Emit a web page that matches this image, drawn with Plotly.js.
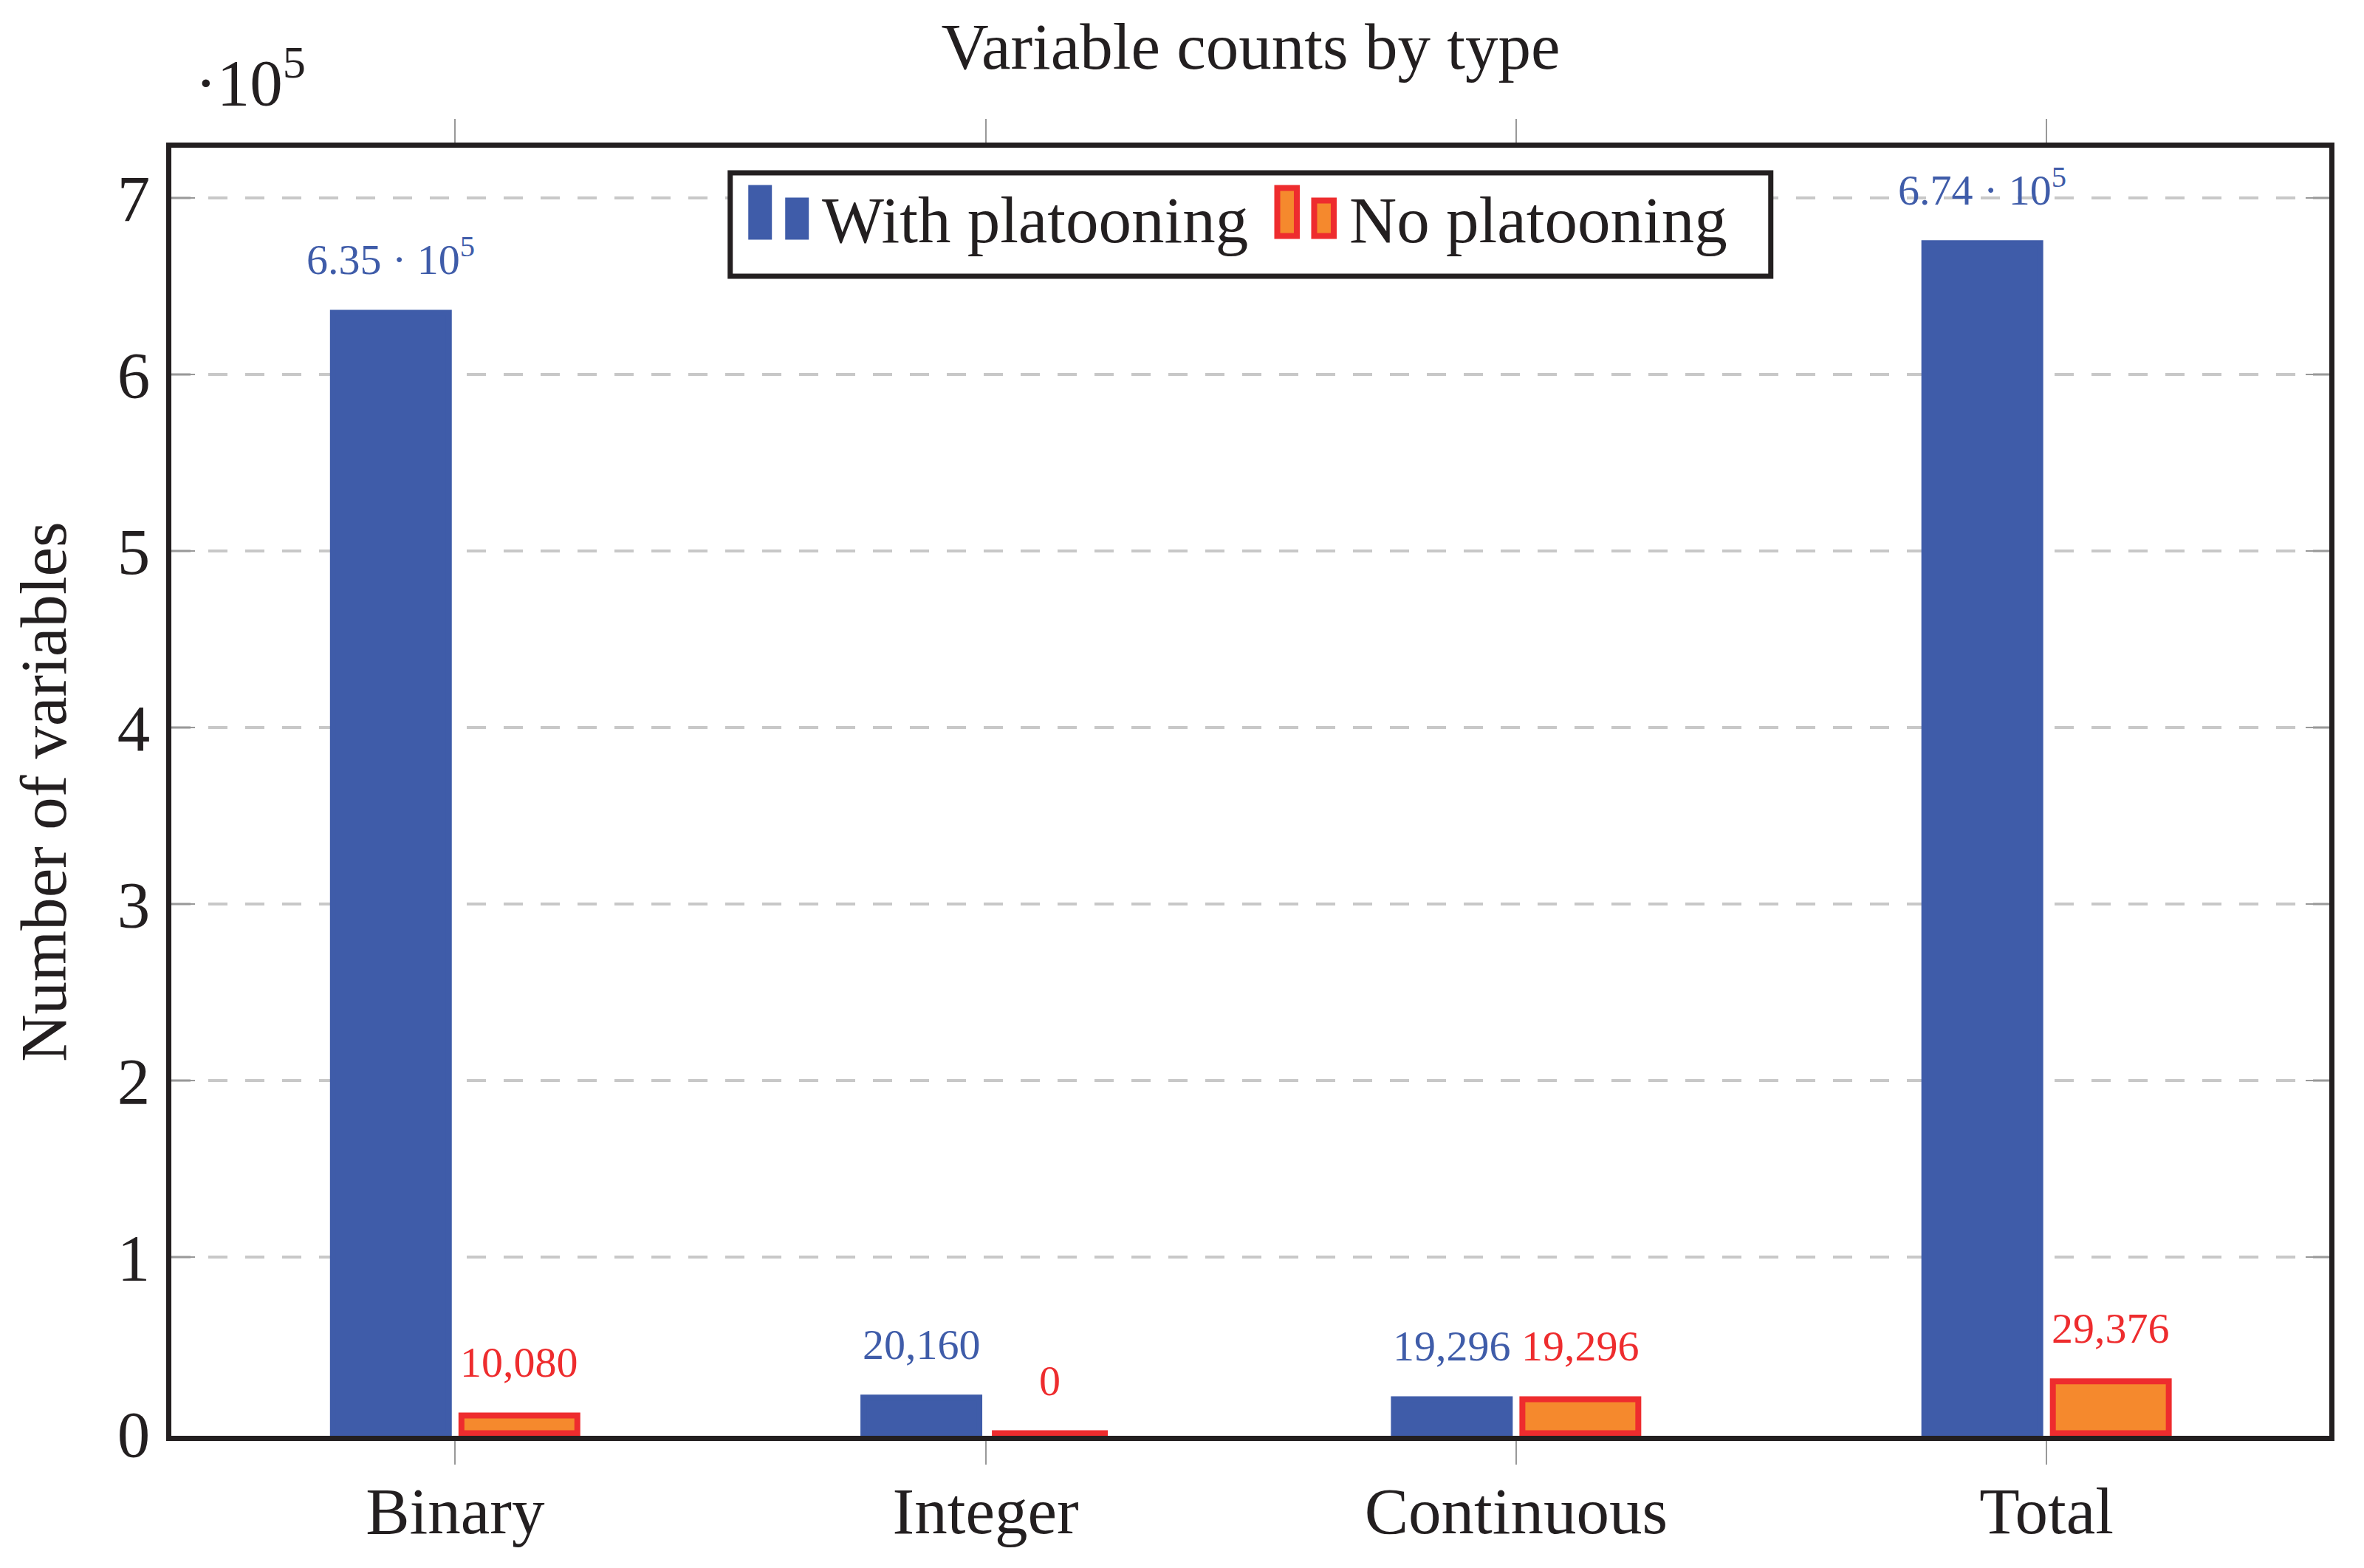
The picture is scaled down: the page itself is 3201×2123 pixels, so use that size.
<!DOCTYPE html>
<html>
<head>
<meta charset="utf-8">
<script src="https://cdn.plot.ly/plotly-3.0.1.min.js"></script>
<style>html,body{margin:0;padding:0;background:#fff;}#chart{width:3201px;height:2123px;}</style>
</head>
<body>
<div id="chart"></div>
<script>
// ---- data ----
const categories = ['Binary', 'Integer', 'Continuous', 'Total'];
const withPlatooning = [635000, 20160, 19296, 674456];
const noPlatooning = [10080, 0, 19296, 29376];
const withLabels = ['6.35 · 10<sup>5</sup>', '20,160', '19,296', '6.74 · 10<sup>5</sup>'];
const noLabels = ['10,080', '0', '19,296', '29,376'];
const yTickVals = [0, 100000, 200000, 300000, 400000, 500000, 600000, 700000];
const yTickText = ['0', '1', '2', '3', '4', '5', '6', '7'];
const seriesNames = ['With platooning', 'No platooning'];

// ---- style ----
const BLUE = '#3f5ca9', ORANGE = '#f5892d', RED = '#ee2c2e', INK = '#231f20';
const FONT = 'Liberation Serif, Times New Roman, serif';
const W = 3201, H = 2123;
const M = {l: 231.5, r: 46.5, t: 199.5, b: 178.5};
const PW = W - M.l - M.r, PH = H - M.t - M.b;
const px = x => (x - M.l) / PW;
const py = y => (H - M.b - y) / PH;
const OFF = 0.1211;

const traces = [
  {type: 'bar', name: seriesNames[0], x: categories, y: withPlatooning,
   marker: {color: BLUE, line: {color: BLUE, width: 8}}, hoverinfo: 'skip'},
  {type: 'bar', name: seriesNames[1], x: categories, y: noPlatooning,
   marker: {color: ORANGE, line: {color: RED, width: 8}}, hoverinfo: 'skip'}
];

const annotations = [];
categories.forEach((c, i) => {
  annotations.push({x: i - OFF, y: withPlatooning[i], xref: 'x', yref: 'y', text: withLabels[i],
    showarrow: false, yanchor: 'bottom', xanchor: 'center', yshift: 37,
    font: {family: FONT, size: 58, color: BLUE}});
  annotations.push({x: i + OFF, y: noPlatooning[i], xref: 'x', yref: 'y', text: noLabels[i],
    showarrow: false, yanchor: 'bottom', xanchor: 'center', yshift: 37,
    font: {family: FONT, size: 58, color: RED}});
});
// axis multiplier
annotations.push({xref: 'paper', yref: 'paper', x: px(262), y: py(104), xanchor: 'left', yanchor: 'middle',
  text: '·10<sup>5</sup>', showarrow: false, font: {family: FONT, size: 89, color: INK}});
// legend texts
annotations.push({xref: 'paper', yref: 'paper', x: px(1111), y: py(298), xanchor: 'left', yanchor: 'middle',
  text: seriesNames[0], showarrow: false, font: {family: FONT, size: 89, color: INK}});
annotations.push({xref: 'paper', yref: 'paper', x: px(1825), y: py(298), xanchor: 'left', yanchor: 'middle',
  text: seriesNames[1], showarrow: false, font: {family: FONT, size: 89, color: INK}});

const rect = (x0, y0, x1, y1, fill, line, lw) => ({type: 'rect', xref: 'paper', yref: 'paper', layer: 'above',
  x0: px(x0), x1: px(x1), y0: py(y1), y1: py(y0), fillcolor: fill, line: {color: line, width: lw}});
const shapes = [
  rect(988.5, 233.5, 2398, 373.5, '#ffffff', INK, 7),
  rect(1013, 250, 1045, 324, BLUE, BLUE, 0),
  rect(1063, 267, 1095, 324, BLUE, BLUE, 0),
  rect(1729.5, 254, 1756, 319, ORANGE, RED, 8),
  rect(1779.5, 271, 1806, 319, ORANGE, RED, 8)
];

const layout = {
  width: W, height: H,
  margin: M,
  paper_bgcolor: '#ffffff', plot_bgcolor: '#ffffff',
  showlegend: false,
  barmode: 'group', bargap: 0.5155, bargroupgap: 0.098,
  font: {family: FONT, size: 89, color: INK},
  title: {text: 'Variable counts by type', x: px(1693.5), xanchor: 'center', xref: 'paper',
    y: 1 - 62 / H, yref: 'container', yanchor: 'middle', font: {family: FONT, size: 89, color: INK}},
  xaxis: {type: 'category', range: [-0.535, 3.533], showgrid: false, zeroline: false,
    showline: true, linewidth: 7, linecolor: INK, mirror: 'ticks',
    ticks: 'outside', ticklen: 32, tickwidth: 2, tickcolor: '#999999',
    ticklabelstandoff: -14,
    tickfont: {family: FONT, size: 89, color: INK}},
  yaxis: {range: [-1458, 728542], tickmode: 'array', tickvals: yTickVals, ticktext: yTickText,
    showgrid: false,
    minor: {tickmode: 'array', tickvals: yTickVals.slice(1), ticks: 'inside', ticklen: 32,
      tickwidth: 2, tickcolor: '#999999', showgrid: true,
      gridcolor: '#c8c8c8', gridwidth: 4, griddash: '26px,24px'},
    zeroline: false, showline: true, linewidth: 7, linecolor: INK, mirror: 'ticks',
    ticks: '',
    ticklabelstandoff: 4,
    tickfont: {family: FONT, size: 89, color: INK},
    title: {text: 'Number of variables', standoff: 42, font: {family: FONT, size: 89, color: INK}}},
  annotations: annotations,
  shapes: shapes
};

Plotly.newPlot('chart', traces, layout, {staticPlot: true, displayModeBar: false});
</script>
</body>
</html>
